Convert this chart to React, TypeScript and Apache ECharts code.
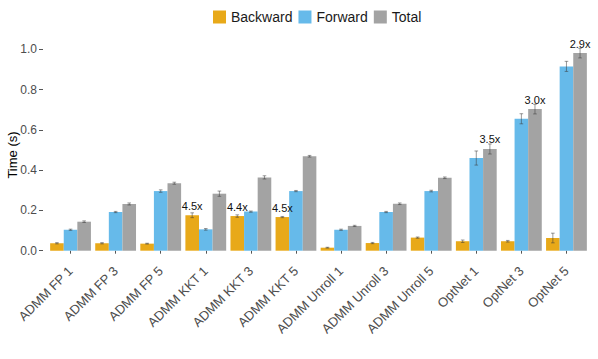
import React, { useEffect, useRef } from "react";
import * as echarts from "echarts";

const categories = [
  "ADMM FP 1", "ADMM FP 3", "ADMM FP 5",
  "ADMM KKT 1", "ADMM KKT 3", "ADMM KKT 5",
  "ADMM Unroll 1", "ADMM Unroll 3", "ADMM Unroll 5",
  "OptNet 1", "OptNet 3", "OptNet 5",
];
const backward = [0.037, 0.037, 0.035, 0.176, 0.172, 0.167, 0.015, 0.038, 0.065, 0.047, 0.047, 0.063];
const forward = [0.104, 0.192, 0.296, 0.106, 0.194, 0.296, 0.104, 0.192, 0.296, 0.46, 0.655, 0.915];
const total = [0.144, 0.232, 0.335, 0.283, 0.364, 0.469, 0.123, 0.233, 0.362, 0.505, 0.703, 0.981];
const backwardErr = [0.003, 0.003, 0.002, 0.012, 0.006, 0.003, 0.002, 0.003, 0.003, 0.006, 0.004, 0.024];
const forwardErr = [0.003, 0.003, 0.006, 0.004, 0.003, 0.003, 0.003, 0.003, 0.004, 0.035, 0.025, 0.025];
const totalErr = [0.004, 0.005, 0.005, 0.013, 0.008, 0.004, 0.003, 0.004, 0.004, 0.025, 0.024, 0.024];
const backwardLabels = ["", "", "", "4.5x", "4.4x", "4.5x", "", "", "", "", "", ""];
const totalLabels = ["", "", "", "", "", "", "", "", "", "3.5x", "3.0x", "2.9x"];
const yTicks = [0, 0.2, 0.4, 0.6, 0.8, 1.0];

const FONT = "'Liberation Sans', Arial, Helvetica, sans-serif";
const GAP = 0.095;

function errSeries(vals: number[], errs: number[], slot: number) {
  return {
    type: "custom",
    silent: true,
    z: 10,
    data: vals.map((v, i) => [i, v - errs[i], v + errs[i]]),
    renderItem: (params: any, api: any) => {
      const ci = api.value(0);
      const lo = api.coord([ci, api.value(1)]);
      const hi = api.coord([ci, api.value(2)]);
      const catW = api.size([1, 0])[0];
      const barW = (catW * (1 - GAP)) / 3;
      const x = lo[0] + (slot - 1) * barW;
      const cap = 1.8;
      const style = { stroke: "rgba(60,60,60,0.75)", lineWidth: 0.7 };
      return {
        type: "group",
        children: [
          { type: "line", shape: { x1: x, y1: lo[1], x2: x, y2: hi[1] }, style },
          { type: "line", shape: { x1: x - cap, y1: lo[1], x2: x + cap, y2: lo[1] }, style },
          { type: "line", shape: { x1: x - cap, y1: hi[1], x2: x + cap, y2: hi[1] }, style },
        ],
      };
    },
  };
}

export default function App() {
  const ref = useRef<HTMLDivElement>(null);
  useEffect(() => {
    if (!ref.current) return;
    const chart = echarts.init(ref.current, null, { renderer: "svg" });
    const labelStyle = (arr: string[]) => ({
      show: true,
      position: "top",
      distance: 4,
      fontSize: 11,
      fontFamily: FONT,
      color: "#111",
      formatter: (p: any) => arr[p.dataIndex],
    });
    chart.setOption({
      animation: false,
      textStyle: { fontFamily: FONT },
      legend: {
        data: ["Backward", "Forward", "Total"],
        left: 208,
        top: 5,
        itemWidth: 13,
        itemHeight: 13,
        itemGap: 6,
        icon: "rect",
        textStyle: { fontSize: 14, color: "#1a1a1a", fontFamily: FONT },
      },
      grid: { left: 48, right: 9, top: 39.2, bottom: 108.3, containLabel: false },
      xAxis: {
        type: "category",
        data: categories,
        offset: 10,
        axisLine: { show: false },
        axisTick: { show: true, alignWithLabel: true, length: 3, lineStyle: { color: "#555" } },
        axisLabel: {
          rotate: 45,
          fontSize: 13,
          color: "#4d4d4d",
          margin: 8,
          fontFamily: FONT,
          interval: 0,
        },
        splitLine: { show: false },
      },
      yAxis: {
        type: "value",
        min: 0,
        max: 1.05,
        interval: 0.2,
        offset: 5,
        axisLine: { show: false },
        axisTick: { show: true, length: 4, lineStyle: { color: "#555" } },
        axisLabel: {
          fontSize: 12,
          color: "#4d4d4d",
          margin: 6,
          fontFamily: FONT,
          showMaxLabel: false,
          formatter: (v: number) => (yTicks.some((t) => Math.abs(t - v) < 1e-6) ? v.toFixed(1) : ""),
        },
        splitLine: { show: false },
      },
      graphic: [
        {
          type: "text",
          x: 12,
          y: 155,
          rotation: Math.PI / 2,
          style: {
            text: "Time (s)",
            fontSize: 13,
            fontFamily: FONT,
            fill: "#000",
            textAlign: "center",
            textVerticalAlign: "middle",
          },
        },
      ],
      series: [
        {
          name: "Backward",
          type: "bar",
          data: backward,
          barGap: "0%",
          barCategoryGap: GAP * 100 + "%",
          itemStyle: { color: "#E8A919" },
          label: labelStyle(backwardLabels),
        },
        {
          name: "Forward",
          type: "bar",
          data: forward,
          barGap: "0%",
          barCategoryGap: GAP * 100 + "%",
          itemStyle: { color: "#66BAEA" },
        },
        {
          name: "Total",
          type: "bar",
          data: total,
          barGap: "0%",
          barCategoryGap: GAP * 100 + "%",
          itemStyle: { color: "#A3A3A3" },
          label: labelStyle(totalLabels),
        },
        errSeries(backward, backwardErr, 0),
        errSeries(forward, forwardErr, 1),
        errSeries(total, totalErr, 2),
      ],
    });
    return () => chart.dispose();
  }, []);
  return <div ref={ref} style={{ width: 598, height: 359, position: "absolute", left: 0, top: 0 }} />;
}
